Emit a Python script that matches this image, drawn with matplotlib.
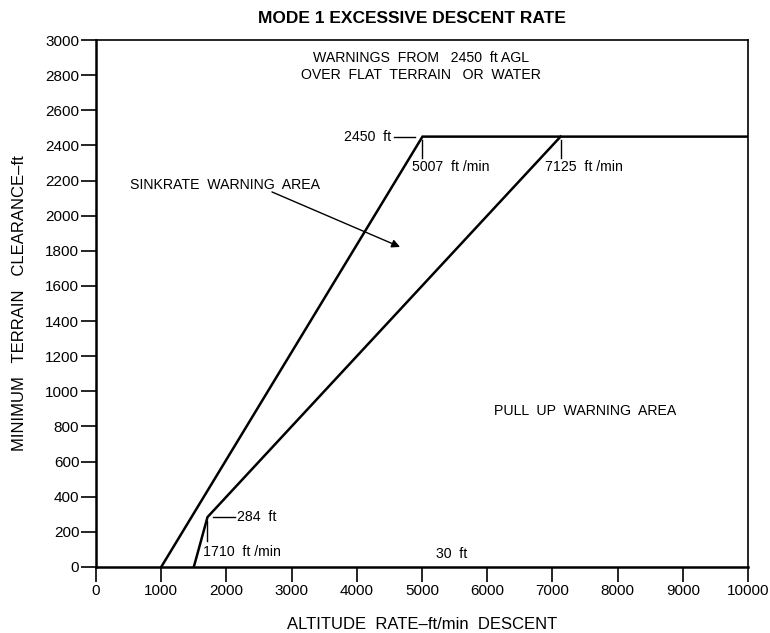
import matplotlib
matplotlib.use("Agg")
import matplotlib.pyplot as plt

plt.rcParams['font.family'] = ['Liberation Sans', 'DejaVu Sans']

# Data
sink_x = [1000, 5007, 10000]
sink_y = [0, 2450, 2450]
pull_x = [1500, 1710, 7125]
pull_y = [0, 284, 2450]
x_ticks = [0, 1000, 2000, 3000, 4000, 5000, 6000, 7000, 8000, 9000, 10000]
y_ticks = [0, 200, 400, 600, 800, 1000, 1200, 1400, 1600, 1800, 2000, 2200, 2400, 2600, 2800, 3000]

fig = plt.figure(figsize=(7.7, 6.33), dpi=100)
ax = fig.add_axes([96/770, 1-567/633, (748-96)/770, (567-40)/633])
ax.set_xlim(0, 10000)
ax.set_ylim(0, 3000)

ax.plot(sink_x, sink_y, color='black', lw=1.8, solid_joinstyle='miter')
ax.plot(pull_x, pull_y, color='black', lw=1.8, solid_joinstyle='miter')

ax.set_xticks(x_ticks)
ax.set_yticks(y_ticks)
ax.tick_params(direction='out', length=11, width=1.2, labelsize=11, pad=1)
for s in ['left', 'bottom']:
    ax.spines[s].set_linewidth(1.8)
for s in ['top', 'right']:
    ax.spines[s].set_linewidth(1.2)

fs = 10.2
# annotations
ax.plot([4570, 4900], [2450, 2450], color='black', lw=1)
ax.text(4520, 2450, '2450  ft', ha='right', va='center', fontsize=fs)
ax.plot([5007, 5007], [2430, 2330], color='black', lw=1)
ax.text(4850, 2275, '5007  ft /min', ha='left', va='center', fontsize=fs)
ax.plot([7125, 7125], [2430, 2330], color='black', lw=1)
ax.text(6880, 2275, '7125  ft /min', ha='left', va='center', fontsize=fs)
ax.plot([1790, 2130], [284, 284], color='black', lw=1)
ax.text(2160, 284, '284  ft', ha='left', va='center', fontsize=fs)
ax.plot([1710, 1710], [260, 150], color='black', lw=1)
ax.text(1640, 85, '1710  ft /min', ha='left', va='center', fontsize=fs)
ax.text(5450, 75, '30  ft', ha='center', va='center', fontsize=fs)

ax.text(4980, 2850, 'WARNINGS  FROM   2450  ft AGL\nOVER  FLAT  TERRAIN   OR  WATER',
        ha='center', va='center', fontsize=fs, linespacing=1.25)
ax.text(520, 2175, 'SINKRATE  WARNING  AREA', ha='left', va='center', fontsize=fs)
ax.annotate('', xy=(4663, 1822), xytext=(2699, 2135),
            arrowprops=dict(arrowstyle='-|>', color='black', lw=1,
                            mutation_scale=12, shrinkA=0, shrinkB=0))
ax.text(7500, 890, 'PULL  UP  WARNING  AREA', ha='center', va='center', fontsize=fs)

ax.set_xlabel('ALTITUDE  RATE–ft/min  DESCENT', fontsize=12, labelpad=14)
ax.set_ylabel('MINIMUM   TERRAIN   CLEARANCE–ft', fontsize=12, labelpad=13)
ax.set_title('MODE 1 EXCESSIVE DESCENT RATE', fontsize=12.5, fontweight='bold',
             pad=12, x=0.485)

fig.savefig('out.png', dpi=100)
